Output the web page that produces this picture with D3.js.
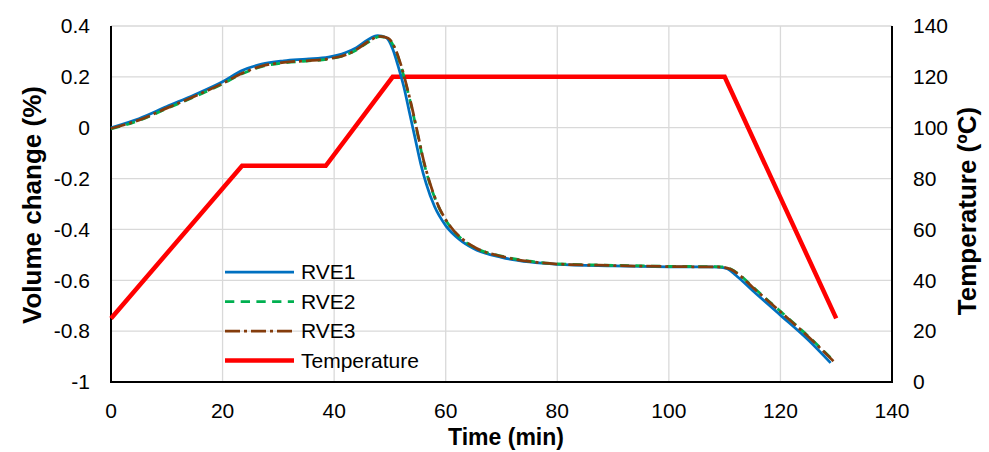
<!DOCTYPE html>
<html lang="en">
	<head>
		<meta charset="utf-8">
		<title>Volume change and temperature</title>
		<script type="text/javascript" src="https://cdn.jsdelivr.net/npm/d3@7"></script>
		<style type="text/css">

body {
  margin: 0;
  background: #fff;
}

.tick_label {
    font-family: "Liberation Sans", Arial, sans-serif;
    font-size: 21px;
    fill: #000;
}

.label {
    font-family: "Liberation Sans", Arial, sans-serif;
    font-weight: bold;
    fill: #000;
}

.legend_labels {
    font-family: "Liberation Sans", Arial, sans-serif;
    font-size: 21px;
    fill: #000;
}

.grid line {
  stroke: #d9d9d9;
  stroke-width: 1.3;
}

		</style>
	</head>
	<body>
		<script type="text/javascript">

			// time (min) and volume change (%)
			var rve1Time = [0, 5, 10, 15, 20, 23.5, 27, 31, 35, 39, 42, 44, 46, 47.8, 49.3, 50.5, 51.5, 52.5, 53.5, 54.5,
				55.5, 56.5, 58, 60, 62.5, 65, 70, 75, 80, 90, 100, 109, 110.5, 112, 115, 120, 125, 129];
			var rve1Vol = [0, 0.035, 0.083, 0.13, 0.181, 0.225, 0.25, 0.263, 0.27, 0.278, 0.295, 0.315, 0.345, 0.362, 0.355, 0.31, 0.24, 0.16, 0.06, -0.04,
				-0.14, -0.22, -0.31, -0.385, -0.44, -0.475, -0.51, -0.528, -0.537, -0.543, -0.547, -0.548, -0.555, -0.58, -0.64, -0.737, -0.835, -0.925];

			var rve2Time = [0, 5, 10, 15, 20, 23.5, 27, 31, 35, 39, 42, 44, 46, 48.2, 49.7, 51, 52, 53, 54, 55,
				56, 57, 58.5, 60.5, 63, 65.5, 70, 75, 80, 90, 100, 109.5, 111, 112.5, 115, 120, 125, 129.5];
			var rve2Vol = [-0.005, 0.028, 0.075, 0.122, 0.172, 0.212, 0.24, 0.255, 0.262, 0.27, 0.285, 0.305, 0.335, 0.358, 0.35, 0.305, 0.24, 0.16, 0.07, -0.03,
				-0.13, -0.21, -0.3, -0.38, -0.44, -0.475, -0.505, -0.525, -0.535, -0.541, -0.545, -0.547, -0.555, -0.575, -0.625, -0.722, -0.82, -0.915];

			var rve3Time = [0, 5, 10, 15, 20, 23.5, 27, 31, 35, 39, 42, 44, 46, 48.2, 49.7, 51, 52, 53, 54, 55,
				56, 57, 58.5, 60.5, 63, 65.5, 70, 75, 80, 90, 100, 109.5, 111, 112.5, 115, 120, 125, 129.5];
			var rve3Vol = [-0.003, 0.03, 0.077, 0.124, 0.174, 0.214, 0.242, 0.257, 0.263, 0.271, 0.286, 0.307, 0.337, 0.359, 0.352, 0.308, 0.245, 0.165, 0.075, -0.025,
				-0.125, -0.205, -0.298, -0.378, -0.438, -0.474, -0.506, -0.526, -0.536, -0.542, -0.546, -0.548, -0.556, -0.577, -0.627, -0.724, -0.822, -0.918];

			// temperature programme (ºC)
			var tempTime = [0, 23.5, 38.5, 50.5, 110, 130];
			var tempValue = [25, 85, 85, 120, 120, 25];

			var xTicks = [0, 20, 40, 60, 80, 100, 120, 140];
			var yTicks = [-1, -0.8, -0.6, -0.4, -0.2, 0, 0.2, 0.4];
			var y2Ticks = [0, 20, 40, 60, 80, 100, 120, 140];

			var SERIES = [
				{name: "RVE1", t: rve1Time, v: rve1Vol, color: "#0070c0", width: 2.75, dash: null},
				{name: "RVE2", t: rve2Time, v: rve2Vol, color: "#00b050", width: 2.75, dash: "9.3,6.4"},
				{name: "RVE3", t: rve3Time, v: rve3Vol, color: "#843c0c", width: 2.75, dash: "15,4,3,4"}
			];

			var W = 989, H = 452;
			var plot = {left: 111, right: 892, top: 26, bottom: 382};

			var svg = d3.select("body")
						.append("svg")
							.attr("width", W)
							.attr("height", H);

			var xScale = d3.scaleLinear().domain([0, 140]).range([plot.left, plot.right]);
			var yScale = d3.scaleLinear().domain([-1, 0.4]).range([plot.bottom, plot.top]);
			var y2Scale = d3.scaleLinear().domain([0, 140]).range([plot.bottom, plot.top]);

			// gridlines
			var grid = svg.append("g").attr("class", "grid");
			grid.selectAll(".vgrid")
				.data(xTicks.slice(1, -1))
				.enter()
				.append("line")
					.attr("x1", function(d) { return xScale(d); })
					.attr("x2", function(d) { return xScale(d); })
					.attr("y1", plot.top)
					.attr("y2", plot.bottom);
			grid.selectAll(".hgrid")
				.data(yTicks.slice(1))
				.enter()
				.append("line")
					.attr("x1", plot.left)
					.attr("x2", plot.right)
					.attr("y1", function(d) { return yScale(d); })
					.attr("y2", function(d) { return yScale(d); });

			// axis lines (left, bottom, right)
			svg.append("path")
				.attr("d", "M" + plot.left + "," + plot.top + "V" + plot.bottom + "H" + plot.right + "V" + plot.top)
				.attr("fill", "none")
				.attr("stroke", "#000")
				.attr("stroke-width", 2);

			// tick labels
			svg.selectAll(".xtick")
				.data(xTicks)
				.enter()
				.append("text")
					.attr("class", "tick_label")
					.attr("x", function(d) { return xScale(d); })
					.attr("y", 418)
					.attr("text-anchor", "middle")
					.text(function(d) { return d; });

			svg.selectAll(".ytick")
				.data(yTicks)
				.enter()
				.append("text")
					.attr("class", "tick_label")
					.attr("x", 90)
					.attr("y", function(d) { return yScale(d); })
					.attr("dy", "0.35em")
					.attr("text-anchor", "end")
					.text(function(d) { return d; });

			svg.selectAll(".y2tick")
				.data(y2Ticks)
				.enter()
				.append("text")
					.attr("class", "tick_label")
					.attr("x", 913)
					.attr("y", function(d) { return y2Scale(d); })
					.attr("dy", "0.35em")
					.attr("text-anchor", "start")
					.text(function(d) { return d; });

			// axis titles
			svg.append("text")
				.attr("class", "label")
				.style("font-size", "23px")
				.attr("x", 506)
				.attr("y", 445)
				.attr("text-anchor", "middle")
				.text("Time (min)");

			svg.append("text")
				.attr("class", "label")
				.style("font-size", "26px")
				.attr("transform", "translate(41,205) rotate(-90)")
				.attr("text-anchor", "middle")
				.text("Volume change (%)");

			svg.append("text")
				.attr("class", "label")
				.style("font-size", "26px")
				.attr("transform", "translate(976,211) rotate(-90)")
				.attr("text-anchor", "middle")
				.text("Temperature (ºC)");

			// series
			var volLine = d3.line()
				.x(function(d) { return xScale(d[0]); })
				.y(function(d) { return yScale(d[1]); })
				.curve(d3.curveMonotoneX);

			var tempLine = d3.line()
				.x(function(d) { return xScale(d[0]); })
				.y(function(d) { return y2Scale(d[1]); });

			svg.append("path")
				.datum(d3.zip(tempTime, tempValue))
				.attr("d", tempLine)
				.attr("fill", "none")
				.attr("stroke", "#ff0000")
				.attr("stroke-width", 4.5);

			SERIES.forEach(function(s) {
				svg.append("path")
					.datum(d3.zip(s.t, s.v))
					.attr("d", volLine)
					.attr("fill", "none")
					.attr("stroke", s.color)
					.attr("stroke-width", s.width)
					.attr("stroke-dasharray", s.dash);
			});

			// legend
			var legendItems = SERIES.concat([{name: "Temperature", color: "#ff0000", width: 4.5, dash: null}]);
			var legend_x = 225, legend_y = 272, legend_step = 29.5;

			svg.selectAll(".legend_line")
				.data(legendItems)
				.enter()
				.append("line")
					.attr("x1", legend_x)
					.attr("x2", legend_x + 69)
					.attr("y1", function(d, i) { return legend_y + i * legend_step; })
					.attr("y2", function(d, i) { return legend_y + i * legend_step; })
					.attr("stroke", function(d) { return d.color; })
					.attr("stroke-width", function(d) { return d.width; })
					.attr("stroke-dasharray", function(d) { return d.dash; });

			svg.selectAll(".legend_labels")
				.data(legendItems)
				.enter()
				.append("text")
					.attr("class", "legend_labels")
					.attr("x", legend_x + 76)
					.attr("y", function(d, i) { return legend_y + i * legend_step; })
					.attr("dy", "0.35em")
					.text(function(d) { return d.name; });

		</script>
	</body>
</html>
